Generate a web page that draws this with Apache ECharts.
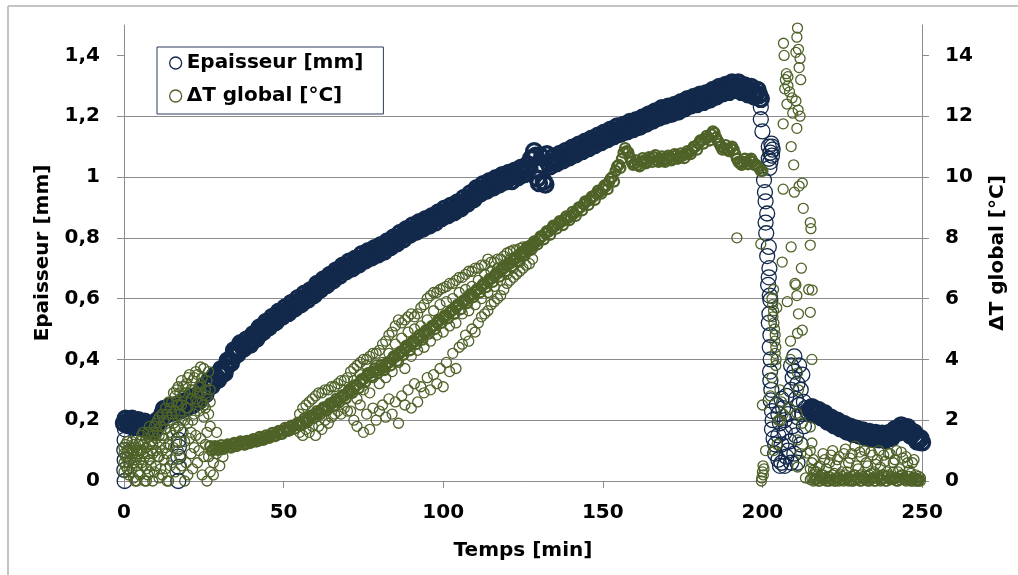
<!DOCTYPE html>
<html><head><meta charset="utf-8">
<script src="https://cdn.jsdelivr.net/npm/echarts@6/dist/echarts.min.js"></script>
<style>html,body{margin:0;padding:0;background:#fff}#c{width:1018px;height:575px}</style>
</head><body><div id="c"></div>
<script>
// ---------- axis ticks ----------
const xTicks = [0, 50, 100, 150, 200, 250];
const leftTicks = [0, 0.2, 0.4, 0.6, 0.8, 1, 1.2, 1.4];
const rightTicks = [0, 2, 4, 6, 8, 10, 12, 14];

// ---------- Epaisseur [mm] ----------
const epMainStart = 0; // readings at t = 0, 1, ... 199
const epMain = [
  0.19,0.195,0.195,0.19,0.19,0.19,0.185,0.18,0.175,0.175,
  0.18,0.2,0.22,0.23,0.232,0.235,0.238,0.24,0.245,0.25,
  0.255,0.26,0.265,0.27,0.28,0.29,0.305,0.32,0.33,0.34,
  0.35,0.36,0.375,0.39,0.41,0.425,0.435,0.445,0.45,0.455,
  0.465,0.475,0.485,0.5,0.505,0.515,0.525,0.53,0.54,0.55,
  0.555,0.56,0.57,0.575,0.585,0.59,0.6,0.605,0.61,0.62,
  0.63,0.64,0.645,0.655,0.66,0.67,0.675,0.685,0.69,0.7,
  0.705,0.71,0.715,0.72,0.73,0.735,0.74,0.745,0.75,0.755,
  0.76,0.765,0.77,0.78,0.785,0.79,0.8,0.805,0.81,0.82,
  0.825,0.83,0.835,0.84,0.845,0.85,0.855,0.86,0.865,0.875,
  0.88,0.885,0.89,0.895,0.9,0.905,0.915,0.92,0.93,0.935,
  0.945,0.955,0.96,0.965,0.97,0.975,0.98,0.985,0.99,0.995,
  1.0,1.0,1.005,1.01,1.015,1.02,1.025,1.03,1.06,1.07,
  0.98,1.065,0.975,1.045,1.05,1.055,1.06,1.065,1.07,1.075,
  1.08,1.085,1.09,1.095,1.1,1.105,1.11,1.115,1.12,1.125,
  1.13,1.135,1.14,1.145,1.15,1.155,1.155,1.16,1.165,1.17,
  1.172,1.176,1.18,1.185,1.19,1.195,1.2,1.205,1.21,1.215,
  1.215,1.22,1.222,1.225,1.23,1.235,1.24,1.245,1.25,1.25,
  1.255,1.26,1.26,1.265,1.27,1.275,1.28,1.285,1.29,1.29,
  1.295,1.3,1.3,1.295,1.29,1.285,1.285,1.28,1.275,1.27
];
const epHalfStart = 0.5; // readings at t = 0.5, 1.5, ... 199.5
const epHalf = [
  0.205,0.183,0.205,0.178,0.2,0.176,0.195,0.166,0.187,0.165,
  0.2,0.198,0.237,0.22,0.246,0.225,0.25,0.231,0.26,0.241,
  0.27,0.25,0.28,0.263,0.298,0.285,0.327,0.313,0.348,0.333,
  0.368,0.355,0.396,0.388,0.43,0.417,0.453,0.436,0.466,0.448,
  0.483,0.468,0.505,0.49,0.523,0.507,0.54,0.523,0.557,0.54,
  0.571,0.553,0.586,0.568,0.601,0.582,0.616,0.596,0.628,0.612,
  0.648,0.63,0.663,0.645,0.678,0.66,0.693,0.675,0.708,0.69,
  0.721,0.7,0.731,0.712,0.746,0.725,0.756,0.735,0.766,0.745,
  0.776,0.755,0.788,0.77,0.801,0.782,0.816,0.795,0.828,0.81,
  0.841,0.82,0.851,0.83,0.861,0.84,0.871,0.85,0.883,0.865,
  0.896,0.875,0.906,0.885,0.916,0.897,0.931,0.912,0.946,0.927,
  0.963,0.945,0.976,0.955,0.986,0.965,0.996,0.975,1.006,0.985,
  1.013,0.987,1.021,1.0,1.031,1.01,1.041,1.06,1.085,0.995,
  1.04,0.985,1.075,1.035,1.066,1.045,1.076,1.055,1.086,1.065,
  1.096,1.075,1.106,1.085,1.116,1.095,1.126,1.105,1.136,1.115,
  1.146,1.125,1.156,1.135,1.166,1.142,1.171,1.15,1.181,1.158,
  1.187,1.165,1.196,1.175,1.206,1.185,1.216,1.195,1.226,1.202,
  1.231,1.208,1.237,1.215,1.246,1.225,1.256,1.235,1.263,1.24,
  1.271,1.247,1.276,1.255,1.286,1.265,1.296,1.275,1.303,1.28,
  1.311,1.287,1.311,1.28,1.301,1.272,1.296,1.265,1.286,1.257
];
const epColumns = [
  [0.3,0.17],[0.2,0.135],[0.1,0.102],[0.2,0.069],[0.1,0.036],[0.2,0.0],
  [17,0.168],[17.1,0.135],[17.2,0.113],[17,0.08],[17.1,0.046],[17,0.0]
];
const epDrop = [
  [199.5,1.23],[199.5,1.19],[200,1.15],
  [202,1.1],[202.5,1.08],[203,1.1],[202.5,1.05],[203,1.07],[202.2,1.03],[203.2,1.09],[202.8,1.11],[202,1.06],
  [200.5,0.99],[200.8,0.95],[201,0.92],[201.5,0.88],[201,0.85],[201.2,0.815],[202,0.77],[201.5,0.74],
  [202.2,0.7],[202,0.67],[201.8,0.645],[202.3,0.61],[202.5,0.595],[202.2,0.55],[202,0.52],[202.5,0.48],
  [202.3,0.44],[202.6,0.4],[202.4,0.36],[202.5,0.33],[202.8,0.3],[202.6,0.265],[203,0.23],[203.2,0.2],
  [203,0.17],[203.5,0.14],[204,0.12],[204,0.09],[205,0.07],[205.5,0.05],[206,0.06],[207,0.05],[207.5,0.08],
  [204.5,0.25],[205,0.22],[205.5,0.19],[205,0.15],[206,0.27],[206.5,0.24],[206,0.12],[207,0.2],[207,0.16],
  [207.5,0.28],[208,0.1],[208,0.22],[208.5,0.13],[209,0.06],[209,0.3],[209,0.38],[209.5,0.34],[209.5,0.18],
  [210,0.41],[210,0.36],[210,0.09],[210.5,0.27],[210.5,0.15],[211,0.32],[211,0.21],[211,0.06],[211.5,0.38],
  [211.5,0.25],[212,0.3],[212,0.12],[212.5,0.22],[212.5,0.35],[213,0.26],[213,0.18],[213.5,0.24],[214,0.23],[214.5,0.22]
];
const epTailStart = 215; // t = 215 .. 250
const epTail = [
  0.235,0.23,0.225,0.222,0.215,0.21,0.2,0.195,0.19,0.185,
  0.18,0.175,0.17,0.167,0.163,0.16,0.157,0.154,0.152,0.15,
  0.148,0.147,0.146,0.145,0.145,0.148,0.155,0.165,0.172,0.174,
  0.17,0.163,0.155,0.145,0.135,0.127
];
const epTailHalfStart = 215.5; // t = 215.5 .. 249.5
const epTailHalf = [
  0.243,0.218,0.234,0.209,0.223,0.195,0.208,0.183,0.198,0.173,
  0.188,0.163,0.179,0.155,0.172,0.149,0.166,0.143,0.161,0.139,
  0.158,0.137,0.156,0.135,0.157,0.142,0.17,0.159,0.183,0.162,
  0.177,0.149,0.16,0.13,0.141
];

// ---------- ΔT global [°C] ----------
const dtBandStart = 27; // t = 27 .. 200
const dtBand = [
  1.15,1.05,1.1,
  1.1,1.05,1.15,1.12,1.2,1.15,1.22,1.25,1.2,1.3,
  1.28,1.35,1.32,1.4,1.38,1.45,1.5,1.48,1.58,1.55,
  1.65,1.7,1.68,1.8,1.85,1.82,1.95,2.0,2.05,2.15,
  2.2,2.25,2.35,2.4,2.45,2.55,2.6,2.65,2.75,2.8,
  2.9,2.95,3.05,3.15,3.25,3.35,3.45,3.55,3.6,3.62,
  3.65,3.72,3.8,3.9,4.0,4.08,4.15,4.25,4.33,4.42,
  4.5,4.58,4.67,4.75,4.85,4.93,5.0,5.1,5.2,5.28,
  5.37,5.45,5.53,5.62,5.7,5.8,5.88,5.96,6.05,6.13,
  6.22,6.3,6.4,6.48,6.56,6.65,6.73,6.82,6.9,7.0,
  7.08,7.16,7.25,7.33,7.42,7.5,7.6,7.68,7.76,7.85,
  7.95,8.05,8.15,8.2,8.3,8.38,8.45,8.52,8.6,8.65,
  8.7,8.8,8.9,9.0,9.1,9.2,9.25,9.35,9.45,9.5,
  9.6,9.7,9.85,10.0,10.2,10.4,10.6,10.95,10.8,10.5,
  10.45,10.4,10.5,10.55,10.5,10.6,10.65,10.55,10.6,10.55,
  10.6,10.65,10.6,10.7,10.65,10.7,10.75,10.8,10.9,11.0,
  11.1,11.2,11.25,11.3,11.4,11.45,11.2,11.0,10.95,10.9,
  10.95,10.9,10.6,10.45,10.5,10.5,10.55,10.5,10.4,10.3,10.2
];
const dtHalfStart = 27.5; // t = 27.5 .. 199.5
const dtHalf = [
  1.0,1.15,1.02,
  1.18,1.08,1.2,1.1,1.25,1.16,1.3,1.2,1.32,1.25,
  1.38,1.3,1.45,1.35,1.5,1.42,1.58,1.48,1.65,1.55,
  1.75,1.65,1.82,1.72,1.92,1.85,2.05,1.95,2.15,2.08,
  2.3,2.2,2.42,2.32,2.55,2.45,2.7,2.6,2.82,2.72,
  3.0,2.9,3.15,3.05,3.35,3.25,3.55,3.45,3.7,3.55,
  3.8,3.65,3.9,3.8,4.1,3.95,4.25,4.15,4.45,4.3,
  4.6,4.5,4.8,4.65,4.95,4.85,5.1,5.0,5.3,5.2,
  5.45,5.35,5.62,5.5,5.8,5.65,5.95,5.85,6.15,6.05,
  6.3,6.2,6.48,6.38,6.65,6.55,6.82,6.72,7.0,6.9,
  7.18,7.06,7.35,7.22,7.52,7.42,7.7,7.6,7.88,7.78,
  8.05,7.95,8.22,8.1,8.4,8.3,8.55,8.42,8.7,8.58,
  8.85,8.72,9.0,8.9,9.2,9.08,9.35,9.25,9.55,9.45,
  9.72,9.6,9.95,9.85,10.35,10.3,10.8,10.85,10.65,10.4,
  10.55,10.35,10.62,10.45,10.65,10.5,10.72,10.5,10.68,10.5,
  10.7,10.55,10.75,10.6,10.78,10.62,10.85,10.75,11.0,10.9,
  11.2,11.1,11.35,11.2,11.5,11.3,11.1,10.9,11.05,10.85,
  11.0,10.75,10.5,10.4,10.6,10.42,10.6,10.4,10.35,10.2
];
const dtEarlyRows = [
  [0,0.9,0.6,1.1,0.3],[1,1.0,0.4,0.8,1.3],[2,0.7,1.1,0.3,0.9],[3,0.9,0.1,1.2,0.6],
  [4,0.5,0.8,1.0,0.0],[5,0.2,1.3,0.7,1.0],[6,0.9,1.6,0.5,1.2],[7,1.1,0.4,1.4,0.0],
  [8,0.7,1.8,1.2,0.3],[9,1.2,0.9,1.6,0.0],[10,0.5,1.9,1.0,1.4],[11,0.1,2.1,0.8,1.5],
  [12,1.5,1.0,2.2,0.2],[13,0.4,1.7,2.4,1.1],[14,1.2,0.0,2.0,2.6],[15,0.7,2.6,1.5,2.2],
  [16,2.3,0.3,2.8,1.7],[17,1.0,3.1,1.8,2.5],[18,2.5,0.5,3.3,2.0],[19,2.0,1.3,2.9,0.0],
  [20,0.2,2.4,3.4,1.9],[21,1.6,2.7,0.9,3.0],[22,3.0,2.2,1.1,3.4],[23,3.5,0.6,2.6,2.9],
  [24,2.9,1.4,3.2,3.75],[25,2.5,0.8,3.7,2.1],[26,2.8,1.6,3.3,0.0],[27,2.6,0.3,3.0,1.8],
  [28,0.6,0.2],[29,0.9,1.6],[30,0.5],[31,0.8],
  [0.5,0.8,1.2,0.5],[1.5,0.6,1.0,0.2],[2.5,1.0,0.4,1.3],[3.5,0.7,1.1,0.0],[4.5,1.2,0.3,0.9],
  [5.5,0.6,1.0,1.5],[6.5,0.0,0.8,1.3],[7.5,0.9,1.6,0.2],[8.5,0.5,1.3,1.0],[9.5,1.5,0.3,1.8],
  [10.5,0.8,1.6,2.0],[11.5,1.2,0.4,1.8],[12.5,2.0,0.7,1.4],[13.5,2.2,0.9,0.0],[14.5,1.6,2.4,0.5],
  [15.5,1.9,2.9,1.1],[16.5,2.6,1.3,3.0],[17.5,2.2,0.8,2.9],[18.5,2.8,1.6,3.1],[19.5,3.2,2.4,0.6],
  [20.5,2.9,1.4,3.5],[21.5,3.3,2.0,0.4],[22.5,2.7,3.6,1.5],[23.5,3.1,2.3,1.0],[24.5,3.4,2.6,0.2],
  [25.5,3.0,2.4,1.2],[26.5,3.6,2.2,0.8]
];
const dtSpreadRows = [
  [55,2.2,1.6],[56,2.4,1.5],[57,2.5,1.7],[58,2.6,1.6],[59,2.7,1.8],[60,2.8,1.5],[61,2.9,1.8],[62,2.9,1.7],
  [63,3.0,2.0],[64,3.0,1.9],[65,3.1,2.1],[66,3.1,2.2],[67,3.2,2.3],[68,3.3,2.2],[69,3.3,2.4],[70,3.4,2.3],
  [71,3.6,2.3,3.0],[72,3.7,2.0,3.3],[73,3.8,1.8,2.7],[74,3.9,2.5,3.5],[75,4.0,1.6,3.0],[76,4.0,2.2,3.8],
  [77,4.1,1.7,2.9],[78,4.2,2.4,3.4],[79,4.2,2.0,3.8],[80,4.3,2.3,3.2],[81,4.5,2.5,3.9],[82,4.6,2.1,3.4],
  [83,4.8,2.7,4.2],[84,4.9,2.2,3.6],[85,5.1,2.6,4.5],[86,5.3,1.9,3.9],[87,5.2,2.8,4.7],[88,5.3,2.5,3.7],
  [89,5.4,3.0,4.9],[90,5.5,2.4,4.1],[91,5.4,3.2,5.0],[92,5.5,2.6,4.3],[93,5.7,3.1,5.1],[94,5.8,2.9,4.4],
  [95,6.0,3.4,5.3],[96,6.1,3.0,4.6],[97,6.2,3.5,5.6],[98,6.2,3.2,4.8],[99,6.3,3.7,5.8],[100,6.35,3.1,4.9],
  [101,6.4,3.9,5.9],[102,6.5,3.6,5.1],[103,6.5,4.2,6.0],[104,6.6,3.7,5.2],[105,6.7,4.4,6.2],[106,6.7,4.5,5.5],
  [107,6.8,4.8,6.3],[108,6.9,4.6,5.6],[109,6.9,5.0,6.4],[110,7.0,4.9,5.8],[111,7.0,5.2,6.6],[112,7.1,5.4,6.0],
  [113,7.1,5.5,6.8],[114,7.3,5.6,6.2],[115,7.2,5.8,6.9],[116,7.2,5.9,6.4],[117,7.3,6.0,7.0],[118,7.3,6.1,6.6],
  [119,7.4,6.3,7.1],[120,7.5,6.5,6.8],[121,7.55,6.6,7.3],[122,7.6,6.7,7.0],[123,7.6,6.8,7.4],[124,7.65,6.9,7.2],
  [125,7.7,7.0,7.4],[126,7.7,7.1,7.5],[127,7.75,7.15,7.6],[128,7.8,7.3,7.65],
  [192,8.0]
];
const dtDrop = [
  [199.8,0.1],[200,0.3],[200.2,0.5],[199.7,0.0],[200.3,0.2],[200.5,0.4],[200,2.5],[199.5,7.8],[201,1.0],
  [203,6.0],[203.2,5.8],[203.5,5.6],[203.3,5.4],[203.6,5.2],[203.8,5.0],[204,4.8],[203.9,4.6],[204.2,4.4],
  [204,4.2],[204.3,4.0],[203.5,6.3],[204.5,5.7],[204.2,3.8],[203,3.4],[202.5,2.8],[203.5,1.0],[204.6,1.2],
  [205,2.0],[205.5,3.0],[206,2.6],[206.5,2.2],[205.6,2.0],[208.5,2.4],
  [211,14.9],[210.8,14.6],[206.6,14.4],[206.8,14.0],[210.5,14.1],[211.5,13.6],[211.8,13.9],[207.5,13.4],
  [207.2,13.2],[207,12.9],[208,13.0],[210.5,12.5],[211.2,12.2],[209.5,12.1],[211.8,12.0],[206.5,11.75],
  [210.8,11.6],[209,11.0],[209.8,10.4],[212.5,9.8],[206.5,9.6],[210,9.5],[211.5,9.7],[212.8,8.97],
  [215,8.5],[215.2,8.3],[215,7.76],[209,7.7],[206.2,7.2],[212.2,7.0],[210.2,6.5],[214.5,6.3],
  [208,13.3],[208.5,12.8],[212,13.2],[207.7,12.4],[211.3,14.2],[209.3,12.6],
  [210.5,6.45],[215.6,6.28],[210.8,6.1],[207.8,5.9],[215,5.55],[211.3,5.5],[212.5,4.96],[211,4.86],
  [208.8,4.6],[215.5,4.0],[208.8,4.0],[211,3.55],[211.3,3.0],[210.8,2.23],[212.5,1.9],[215,1.78],
  [211,1.35],[214,0.92],[215.5,1.25],[216,0.36],[213.5,0.1],[211,0.46],[212,0.9]
];
const dtTailRows = [
  [215,0.4,0.05,1.0],[216,0.2,0.0,0.7],[217,0.1,0.3,0.05],[218,0.0,0.5,0.15],[219,0.05,0.2,0.9],
  [220,0.1,0.0,0.4],[221,0.0,0.15,0.6],[222,0.05,0.2,1.0],[223,0.1,0.0,0.5],[224,0.0,0.1,0.8],
  [225,0.15,0.05,0.3],[226,0.05,0.2,1.05],[227,0.1,0.0,0.6],[228,0.0,0.15,0.9],[229,0.2,0.05,1.15],
  [230,0.05,0.1,0.4],[231,0.0,0.2,0.8],[232,0.1,0.05,1.0],[233,0.15,0.0,0.5],[234,0.05,0.25,0.95],
  [235,0.0,0.1,0.3],[236,0.1,0.2,0.7],[237,0.05,0.0,0.45],[238,0.2,0.1,0.85],[239,0.0,0.15,0.3],
  [240,0.1,0.05,0.9],[241,0.05,0.3,0.6],[242,0.0,0.1,1.0],[243,0.15,0.05,0.4],[244,0.1,0.2,0.75],
  [245,0.0,0.05,0.8],[246,0.05,0.15,0.35],[247,0.1,0.0,0.6],[248,0.0,0.1,0.2],[249,0.05,0.0,0.15],
  [215.5,0.1,0.6],[216.5,0.3,0.05],[217.5,0.0,0.45],[218.5,0.2,0.1],[219.5,0.05,0.7],[220.5,0.15,0.0],
  [221.5,0.05,0.85],[222.5,0.0,0.25],[223.5,0.1,0.7],[224.5,0.2,0.05],[225.5,0.0,0.9],[226.5,0.1,0.3],
  [227.5,0.05,0.75],[228.5,0.2,0.0],[229.5,0.1,0.5],[230.5,0.0,0.95],[231.5,0.15,0.1],[232.5,0.05,0.6],
  [233.5,0.2,0.0],[234.5,0.1,0.85],[235.5,0.0,0.55],[236.5,0.15,1.0],[237.5,0.05,0.2],[238.5,0.0,0.65],
  [239.5,0.2,0.9],[240.5,0.05,0.15],[241.5,0.1,0.7],[242.5,0.0,0.3],[243.5,0.2,0.95],[244.5,0.05,0.1],
  [245.5,0.15,0.6],[246.5,0.0,0.25],[247.5,0.1,0.7],[248.5,0.05,0.0],[249.5,0.0,0.1]
];

// ---------- build point lists ----------
function seq(start, arr) { return arr.map((v, i) => [start + i, v]); }
function rows(r) { const out = []; r.forEach(row => { for (let k = 1; k < row.length; k++) out.push([row[0], row[k]]); }); return out; }
// dense runs of readings: heavier outline so the overlapping circles read as one band
function dense(points, w) { return points.map(p => ({ value: p, itemStyle: { borderWidth: w } })); }

const epData = [].concat(
  dense(seq(epMainStart, epMain), 3.4), dense(seq(epHalfStart, epHalf), 3.4),
  epColumns, epDrop,
  dense(seq(epTailStart, epTail), 3.4), dense(seq(epTailHalfStart, epTailHalf), 3.4));
const dtData = [].concat(
  rows(dtEarlyRows),
  dense(seq(dtBandStart, dtBand), 2.3), dense(seq(dtHalfStart, dtHalf), 2.3),
  rows(dtSpreadRows), dtDrop, rows(dtTailRows));

const NAVY = '#13294b', OLIVE = '#4f6228', AXIS = '#8c8c8c';
const FONT = 'DejaVu Sans';
const txt = { fontFamily: FONT, fontWeight: 'bold', fontSize: 20, color: '#000' };
const fmtComma = v => String(+(+v).toFixed(2)).replace('.', ',');

const chart = echarts.init(document.getElementById('c'), null, { renderer: 'canvas' });
chart.setOption({
  animation: false,
  backgroundColor: '#fff',
  grid: { left: 124, right: 96, top: 25, bottom: 94, containLabel: false },
  graphic: [
    { type: 'line', shape: { x1: 8, y1: 6, x2: 1018, y2: 6 }, style: { stroke: '#c4c4c4', lineWidth: 2 } },
    { type: 'line', shape: { x1: 8, y1: 6, x2: 8, y2: 575 }, style: { stroke: '#c4c4c4', lineWidth: 2 } }
  ],
  legend: {
    orient: 'vertical', left: 157, top: 47,
    backgroundColor: '#fff', borderColor: '#2b3b5c', borderWidth: 1,
    padding: [6, 20, 8, 12], itemGap: 13, itemWidth: 12, itemHeight: 12,
    textStyle: Object.assign({}, txt),
    data: [
      { name: 'Epaisseur [mm]', icon: 'circle', itemStyle: { color: 'rgba(0,0,0,0)', borderColor: NAVY, borderWidth: 1.3, opacity: 1 } },
      { name: 'ΔT global [°C]', icon: 'circle', itemStyle: { color: 'rgba(0,0,0,0)', borderColor: OLIVE, borderWidth: 1.3, opacity: 1 } }
    ]
  },
  xAxis: {
    type: 'value', min: 0, max: 250, interval: 50,
    name: 'Temps [min]', nameLocation: 'middle', nameGap: 60, nameTextStyle: Object.assign({}, txt),
    axisLine: { show: true, onZero: false, lineStyle: { color: AXIS, width: 1 } },
    axisTick: { show: true, length: 7, lineStyle: { color: AXIS }, customValues: xTicks },
    axisLabel: Object.assign({ margin: 22, customValues: xTicks }, txt),
    splitLine: { show: false }
  },
  yAxis: [
    {
      type: 'value', min: 0, max: 1.5, interval: 0.2, position: 'left',
      name: 'Epaisseur [mm]', nameLocation: 'middle', nameGap: 71, nameRotate: 90, nameTextStyle: Object.assign({}, txt),
      axisLine: { show: true, lineStyle: { color: AXIS, width: 1 } },
      axisTick: { show: true, length: 7, lineStyle: { color: AXIS }, customValues: leftTicks },
      axisLabel: Object.assign({ margin: 24, customValues: leftTicks, formatter: fmtComma }, txt),
      splitLine: { show: true, showMaxLine: false, showMinLine: false, lineStyle: { color: AXIS, width: 1 } }
    },
    {
      type: 'value', min: 0, max: 15, interval: 2, position: 'right',
      name: 'ΔT global [°C]', nameLocation: 'middle', nameGap: 66, nameRotate: 90, nameTextStyle: Object.assign({}, txt),
      axisLine: { show: true, lineStyle: { color: AXIS, width: 1 } },
      axisTick: { show: true, length: 7, lineStyle: { color: AXIS }, customValues: rightTicks },
      axisLabel: Object.assign({ margin: 23, customValues: rightTicks }, txt),
      splitLine: { show: false }
    }
  ],
  series: [
    {
      name: 'Epaisseur [mm]', type: 'scatter', yAxisIndex: 0, data: epData,
      symbol: 'circle', symbolSize: 15,
      itemStyle: { color: 'rgba(0,0,0,0)', borderColor: NAVY, borderWidth: 1.3, opacity: 1 },
      emphasis: { disabled: true }
    },
    {
      name: 'ΔT global [°C]', type: 'scatter', yAxisIndex: 1, data: dtData,
      symbol: 'circle', symbolSize: 10,
      itemStyle: { color: 'rgba(0,0,0,0)', borderColor: OLIVE, borderWidth: 1.3, opacity: 1 },
      emphasis: { disabled: true }
    }
  ]
});
</script></body></html>
